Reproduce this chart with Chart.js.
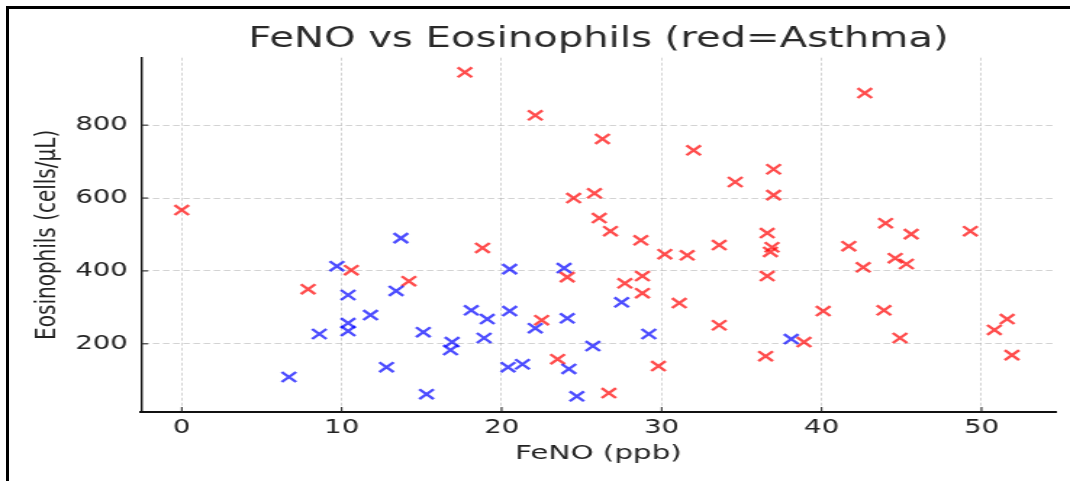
<!DOCTYPE html>
<html><head><meta charset="utf-8">
<script src="https://cdn.jsdelivr.net/npm/chart.js@4/dist/chart.umd.min.js"></script>
<style>
html,body{margin:0;padding:0;background:#fff;width:1070px;height:481px;overflow:hidden}
#c{position:absolute;left:0;top:0}
#frame{position:absolute;left:6px;top:6px;right:-10px;bottom:-10px;border-top:3px solid #000;border-left:3px solid #000;pointer-events:none}
</style></head><body>
<canvas id="c" width="738" height="481" style="width:1070px;height:481px"></canvas>
<div id="frame"></div>
<script>
const asthmaFeNO = [0.0,7.9,10.6,14.2,17.7,18.8,22.1,22.5,23.5,24.1,24.5,25.8,26.1,26.8,26.3,28.7,32.0,26.7,28.8,28.8,27.7,30.2,31.6,31.1,29.8,34.6,37.0,37.0,36.6,33.6,36.9,36.8,36.6,33.6,36.5,38.9,40.1,41.7,42.6,44.6,45.3,43.9,44.9,50.8,51.6,51.9,42.7,44.0,45.6,49.3];
const asthmaEos  = [567,350,402,372,945,463,827,265,158,383,600,613,545,509,762,484,731,65,386,339,366,446,443,312,139,644,679,608,504,471,465,452,386,251,166,205,290,468,410,435,419,292,216,238,268,169,888,531,501,509];
const controlFeNO = [6.7,8.6,9.7,10.4,10.4,10.4,11.8,12.8,13.4,13.7,15.1,15.3,16.9,16.8,18.1,19.1,18.9,20.5,20.5,20.4,21.3,22.1,23.9,24.1,24.2,24.7,25.7,27.5,29.2,38.1];
const controlEos  = [109,227,413,334,257,235,279,136,345,490,232,62,205,183,292,268,216,405,290,136,144,243,408,270,131,56,194,314,227,213];
const xTicks = [0,10,20,30,40,50];
const yTicks = [200,400,600,800];

const pts = (xs, ys) => xs.map((x, i) => ({x: x, y: ys[i]}));

const innerTicks = {
  id: 'innerTicks',
  afterLayout(chart) {
    // centre the title over the plotting area, as in the reference
    if (chart.titleBlock) {
      chart.titleBlock.left = chart.chartArea.left;
      chart.titleBlock.right = chart.chartArea.right;
    }
  },
  afterDraw(chart) {
    const {ctx, chartArea, scales} = chart;
    ctx.save();
    ctx.strokeStyle = '#222';
    ctx.lineWidth = 1;
    ctx.beginPath();
    xTicks.forEach(v => {
      const px = scales.x.getPixelForValue(v);
      ctx.moveTo(px, chartArea.bottom);
      ctx.lineTo(px, chartArea.bottom - 5);
    });
    yTicks.forEach(v => {
      const py = scales.y.getPixelForValue(v);
      ctx.moveTo(chartArea.left, py);
      ctx.lineTo(chartArea.left + 5, py);
    });
    ctx.stroke();
    ctx.restore();
  }
};

const font = 'DejaVu Sans';
const gridColor = 'rgba(175,175,175,0.55)';
new Chart(document.getElementById('c'), {
  type: 'scatter',
  data: {
    datasets: [
      {label: 'Control', data: pts(controlFeNO, controlEos), pointStyle: 'crossRot', pointRadius: 7, pointHoverRadius: 7, borderWidth: 2.3, borderColor: 'rgba(0,0,255,0.7)', backgroundColor: 'rgba(0,0,255,0.7)'},
      {label: 'Asthma', data: pts(asthmaFeNO, asthmaEos), pointStyle: 'crossRot', pointRadius: 7, pointHoverRadius: 7, borderWidth: 2.3, borderColor: 'rgba(255,0,0,0.7)', backgroundColor: 'rgba(255,0,0,0.7)'}
    ]
  },
  options: {
    responsive: false,
    devicePixelRatio: 1,
    animation: false,
    layout: {padding: {left: 0, right: 9.7, top: 0, bottom: 0}},
    plugins: {
      legend: {display: false},
      tooltip: {enabled: false},
      title: {display: true, text: 'FeNO vs Eosinophils (red=Asthma)', color: '#2a2a2a',
        font: {family: font, size: 27.7, weight: 'normal', lineHeight: 1.2}, padding: {top: 23.5, bottom: 0.96}}
    },
    scales: {
      x: {
        type: 'linear', min: -2.55, max: 54.65,
        afterBuildTicks: s => { s.ticks = xTicks.map(v => ({value: v})); },
        afterFit: s => { s.height = 69; },
        border: {display: true, color: '#111', width: 2, dash: [3, 2]},
        grid: {drawTicks: false, color: gridColor, lineWidth: 1},
        ticks: {padding: 5, color: '#222', font: {family: font, size: 19}},
        title: {display: true, text: 'FeNO (ppb)', color: '#222', font: {family: font, size: 20.3, lineHeight: 1.2}, padding: {top: 0, bottom: 15.5}}
      },
      y: {
        type: 'linear', min: 13, max: 985,
        afterBuildTicks: s => { s.ticks = yTicks.map(v => ({value: v})); },
        afterFit: s => { s.width = 97.2; },
        border: {display: true, color: '#111', width: 1.4, dash: [4.5, 2.5]},
        grid: {drawTicks: false, color: gridColor, lineWidth: 1},
        ticks: {padding: 9, color: '#222', font: {family: font, size: 19}},
        title: {display: true, text: 'Eosinophils (cells/μL)', color: '#222', font: {family: font, size: 20, lineHeight: 1.2}, padding: {top: 20.5, bottom: 0}}
      }
    }
  },
  plugins: [innerTicks]
});
</script>
</body></html>
